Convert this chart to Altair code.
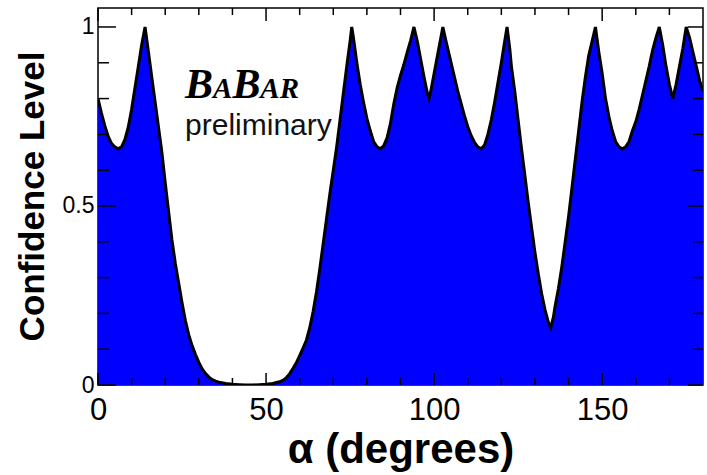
import altair as alt
import pandas as pd

# alpha (degrees) and confidence level
alpha = [0, 1, 2, 3, 4, 5, 6, 7, 8, 9, 10, 11, 12, 13, 14,
         15, 16, 17, 18, 19, 20, 21, 22, 23, 24, 25, 26, 27, 28, 29, 30,
         31, 32, 33, 34, 35, 36, 38, 40, 42, 44, 46, 48, 50, 52, 54, 55,
         56, 57, 58, 59, 60, 61, 62, 63, 64, 65, 66, 67, 68, 69, 70, 71,
         72, 73, 74, 75, 75.5, 76, 77, 78, 79, 80, 81, 82, 83, 84, 85, 86,
         87, 88, 89, 90, 91, 92, 93, 94, 95, 96, 97, 98, 98.5, 99, 100, 101,
         102, 102.6, 103.5, 104, 105, 106, 107, 108, 109, 110, 111, 112, 113,
         114, 115, 116, 117, 118, 119, 120, 121, 121.7, 122.5, 123, 124, 125,
         126, 127, 128, 129, 130, 131, 132, 133, 134, 134.7, 135.5, 136, 137,
         138, 139, 140, 141, 142, 143, 144, 145, 146, 147, 148, 149, 150, 151,
         152, 153, 154, 155, 156, 157, 158, 159, 160, 161, 162, 163, 164, 165,
         166, 167, 168, 169, 170, 171, 172, 173, 174, 175, 176, 177, 178, 179,
         180]
cl = [0.80, 0.76, 0.725, 0.695, 0.675, 0.665, 0.66, 0.665, 0.685, 0.72, 0.77,
      0.83, 0.89, 0.95, 1.00,
      0.93, 0.86, 0.79, 0.72, 0.65, 0.565, 0.485, 0.405, 0.34, 0.285, 0.23,
      0.18, 0.14, 0.11, 0.085, 0.063,
      0.045, 0.032, 0.022, 0.015, 0.011, 0.008, 0.004, 0.002, 0.001, 0.0,
      0.0, 0.001, 0.002, 0.004, 0.009, 0.013,
      0.02, 0.031, 0.046, 0.062, 0.082, 0.103, 0.125, 0.16, 0.205, 0.26,
      0.325, 0.395, 0.465, 0.535, 0.60, 0.665,
      0.74, 0.815, 0.89, 0.96, 1.00, 0.97, 0.90, 0.84, 0.79, 0.745, 0.71,
      0.68, 0.665, 0.66, 0.668, 0.69,
      0.73, 0.785, 0.83, 0.865, 0.895, 0.93, 0.962, 1.00, 0.96, 0.91, 0.86,
      0.815, 0.80, 0.82, 0.87, 0.92,
      0.97, 1.00, 0.962, 0.942, 0.902, 0.862, 0.822, 0.787, 0.753, 0.722,
      0.697, 0.678, 0.665,
      0.66, 0.67, 0.70, 0.74, 0.79, 0.845, 0.90, 0.96, 1.00, 0.94, 0.89,
      0.82, 0.74,
      0.66, 0.585, 0.51, 0.44, 0.37, 0.31, 0.255, 0.21, 0.175, 0.16, 0.19,
      0.22, 0.27,
      0.33, 0.40, 0.47, 0.55, 0.63, 0.71, 0.79, 0.86, 0.92, 0.96, 1.00, 0.93,
      0.87, 0.80,
      0.75, 0.71, 0.68, 0.665, 0.66, 0.665, 0.68, 0.71, 0.735, 0.77, 0.81,
      0.85, 0.89, 0.935,
      0.97, 1.00, 0.95, 0.89, 0.84, 0.80, 0.84, 0.89, 0.94, 1.00, 0.97, 0.93,
      0.89, 0.85,
      0.82]

x_major = [0, 50, 100, 150]
x_minor = [10, 20, 30, 40, 60, 70, 80, 90, 110, 120, 130, 140, 160, 170]
y_major = [0, 0.5, 1]
y_minor = [0.1, 0.2, 0.3, 0.4, 0.6, 0.7, 0.8, 0.9]

X_TITLE = "α (degrees)"
Y_TITLE = "Confidence Level"

W, H = 605, 377
SANS = "Liberation Sans"
SERIF = "Liberation Serif"

xs = alt.Scale(domain=[0, 180], nice=False, zero=False)
ys = alt.Scale(domain=[0, 1.053], nice=False, zero=False)

df = pd.DataFrame({"alpha": alpha, "cl": cl})
base = alt.Chart(df)

x_axis = alt.Axis(values=x_major, format="d")
y_axis = alt.Axis(values=y_major, format=".1~f")

area = base.mark_area(color="#0000ff", clip=True).encode(
    x=alt.X("alpha:Q", scale=xs, axis=x_axis, title=X_TITLE),
    y=alt.Y("cl:Q", scale=ys, axis=y_axis, title=Y_TITLE),
)
line = base.mark_line(color="black", strokeWidth=3, clip=True).encode(
    x=alt.X("alpha:Q", scale=xs, title=X_TITLE),
    y=alt.Y("cl:Q", scale=ys, title=Y_TITLE),
)


def xticks(vals, y0, y1):
    return alt.Chart(pd.DataFrame({"t": vals})).mark_rule(
        color="black", strokeWidth=1.5).encode(
        x=alt.X("t:Q", scale=xs, title=X_TITLE),
        y=alt.value(y0), y2=alt.value(y1))


def yticks(vals, x0, x1):
    return alt.Chart(pd.DataFrame({"t": vals})).mark_rule(
        color="black", strokeWidth=1.5).encode(
        y=alt.Y("t:Q", scale=ys, title=Y_TITLE),
        x=alt.value(x0), x2=alt.value(x1))


ticks = [
    xticks(x_major, H, H - 12), xticks(x_minor, H, H - 7),
    xticks(x_major, 0, 13), xticks(x_minor, 0, 7),
    yticks(y_major, 0, 18), yticks(y_minor, 0, 11),
    yticks(y_major, W, W - 15), yticks(y_minor, W, W - 10),
]

# BaBar logo (small caps built from pieces) and "preliminary" label
logo = pd.DataFrame({
    "x": [25.9, 34.2, 40.0, 48.3],
    "y": [0.802, 0.802, 0.802, 0.802],
    "txt": ["B", "A", "B", "AR"],
    "fs": [42, 29, 42, 29],
})
logo_text = alt.Chart(logo).mark_text(
    font=SERIF, fontStyle="italic", fontWeight="bold", align="left",
    baseline="alphabetic", color="black").encode(
    x=alt.X("x:Q", scale=xs, title=X_TITLE),
    y=alt.Y("y:Q", scale=ys, title=Y_TITLE),
    text="txt:N",
    size=alt.Size("fs:Q", scale=None, legend=None),
)
prelim = alt.Chart(pd.DataFrame({"x": [25.9], "y": [0.698],
                                 "txt": ["preliminary"]})).mark_text(
    font=SANS, fontSize=30, align="left", baseline="alphabetic",
    color="#111111").encode(
    x=alt.X("x:Q", scale=xs, title=X_TITLE),
    y=alt.Y("y:Q", scale=ys, title=Y_TITLE),
    text="txt:N",
)

chart = alt.layer(area, line, *ticks, logo_text, prelim).properties(
    width=W, height=H,
    autosize=alt.AutoSizeParams(type="none"),
    padding={"left": 98, "top": 8, "right": 4, "bottom": 90},
    background="white",
).configure_view(
    stroke="black", strokeWidth=1.5
).configure_axisX(
    ticks=False, domain=False, grid=False, labelFlush=False,
    labelFont=SANS, labelFontSize=31, labelColor="black", labelPadding=10,
    titleFont=SANS, titleFontSize=42, titleFontWeight="bold",
    titleColor="black", titleBaseline="alphabetic", titleY=77,
).configure_axisY(
    ticks=False, domain=False, grid=False, labelFlush=False,
    labelFont=SANS, labelFontSize=23, labelColor="black", labelPadding=4,
    titleFont=SANS, titleFontSize=35, titleFontWeight="bold",
    titleColor="black", titleBaseline="alphabetic", titleAngle=270,
    titleX=-55, titleY=188, titleAlign="center",
)

chart.save("out.html", embed_options={"renderer": "svg", "actions": False})
